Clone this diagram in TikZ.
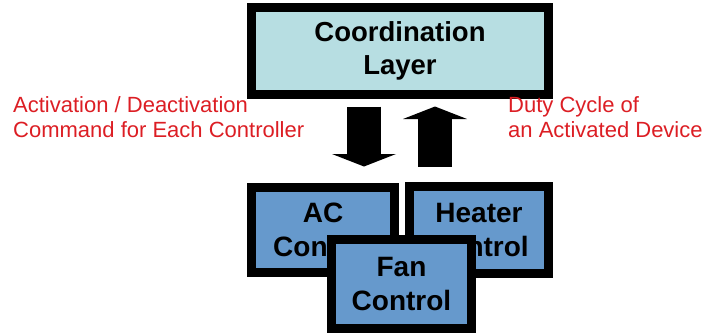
\documentclass[tikz,border=0pt]{standalone}
\usepackage{fontspec}
\setmainfont{Liberation Sans}
\usetikzlibrary{arrows.meta,calc}
\definecolor{coordfill}{RGB}{183,222,226}
\definecolor{ctrlfill}{RGB}{102,153,204}
\definecolor{labelred}{RGB}{220,30,36}
\begin{document}
\begin{tikzpicture}[x=1pt,y=-1pt,
  layerbox/.style={draw=black,line width=9pt,fill=coordfill,inner sep=0pt,
    minimum width=297pt,minimum height=87pt,align=center,
    font=\bfseries\fontsize{27.5}{33}\selectfont},
  ctrlbox/.style={draw=black,line width=9pt,fill=ctrlfill,inner sep=0pt,
    align=center,font=\bfseries\fontsize{28}{34}\selectfont},
  redlabel/.style={text=labelred,align=left,inner sep=0pt,anchor=base west,
    font=\fontsize{22}{25}\selectfont},
  blockarrow/.style={line width=34pt,draw=black,
    -{Triangle[width=64pt,length=12.5pt,line width=0pt]}}]
\useasboundingbox (0,0) rectangle (708,335);
\node[layerbox] (coord) at (400,51) {Coordination\\Layer};
\node[ctrlbox,minimum width=143pt,minimum height=85pt] (ac) at (323,230) {AC\\Control};
\node[ctrlbox,minimum width=139pt,minimum height=87pt] (heater) at (479,230) {Heater\\Control};
\node[ctrlbox,minimum width=140pt,minimum height=89pt] (fan) at (401.5,284) {Fan\\Control};
\coordinate (dtop) at ($(coord.south)+(-36,7.5)$);
\coordinate (utop) at ($(coord.south)+(35,7.5)$);
\draw[blockarrow] (dtop) -- ($(dtop |- ac.north)+(0,-16.5)$);
\draw[blockarrow] ($(utop |- heater.north)+(0,-15.5)$) -- (utop);
\node[redlabel] (cmd) at (13,137) {Activation / Deactivation\\Command for Each Controller};
\node[redlabel] (duty) at (508,137) {Duty Cycle of\\an Activated Device};
\end{tikzpicture}
\end{document}
